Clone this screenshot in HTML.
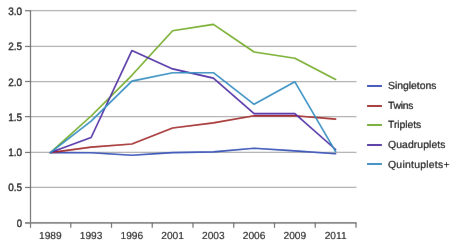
<!DOCTYPE html><html><head><meta charset="utf-8"><style>html,body{margin:0;padding:0;background:#fff;}svg{display:block;will-change:transform;}text{text-rendering:geometricPrecision;}text{font-family:"Liberation Sans",sans-serif;fill:#000;stroke:#000;stroke-width:0.1;}</style></head><body>
<div id="w">
<svg width="456" height="246" viewBox="0 0 456 246">
<defs><filter id="b" filterUnits="userSpaceOnUse" x="0" y="0" width="456" height="246"><feConvolveMatrix order="3" kernelMatrix="0.0016 0.0371 0.0016 0.0371 0.8450 0.0371 0.0016 0.0371 0.0016" edgeMode="duplicate" preserveAlpha="true"/></filter></defs>
<g filter="url(#b)">
<rect width="456" height="246" fill="#fff"/>
<line x1="30.50" y1="187.45" x2="356.50" y2="187.45" stroke="#b0b0b0" stroke-width="1.25"/>
<line x1="30.50" y1="152.45" x2="356.50" y2="152.45" stroke="#b0b0b0" stroke-width="1.25"/>
<line x1="30.50" y1="116.60" x2="356.50" y2="116.60" stroke="#b0b0b0" stroke-width="1.25"/>
<line x1="30.50" y1="81.50" x2="356.50" y2="81.50" stroke="#b0b0b0" stroke-width="1.25"/>
<line x1="30.50" y1="46.45" x2="356.50" y2="46.45" stroke="#b0b0b0" stroke-width="1.25"/>
<line x1="30.50" y1="10.70" x2="356.50" y2="10.70" stroke="#b0b0b0" stroke-width="1.25"/>
<line x1="25" y1="222.85" x2="30.50" y2="222.85" stroke="#6a6a6a" stroke-width="1.2"/>
<line x1="25" y1="187.45" x2="30.50" y2="187.45" stroke="#6a6a6a" stroke-width="1.2"/>
<line x1="25" y1="152.45" x2="30.50" y2="152.45" stroke="#6a6a6a" stroke-width="1.2"/>
<line x1="25" y1="116.60" x2="30.50" y2="116.60" stroke="#6a6a6a" stroke-width="1.2"/>
<line x1="25" y1="81.50" x2="30.50" y2="81.50" stroke="#6a6a6a" stroke-width="1.2"/>
<line x1="25" y1="46.45" x2="30.50" y2="46.45" stroke="#6a6a6a" stroke-width="1.2"/>
<line x1="25" y1="10.70" x2="30.50" y2="10.70" stroke="#6a6a6a" stroke-width="1.2"/>
<line x1="30.50" y1="10.20" x2="30.50" y2="227.85" stroke="#6a6a6a" stroke-width="1.2"/>
<line x1="25" y1="222.85" x2="356.50" y2="222.85" stroke="#858585" stroke-width="1.7"/>
<line x1="70.75" y1="222.85" x2="70.75" y2="227.85" stroke="#6a6a6a" stroke-width="1.2"/>
<line x1="111.50" y1="222.85" x2="111.50" y2="227.85" stroke="#6a6a6a" stroke-width="1.2"/>
<line x1="152.25" y1="222.85" x2="152.25" y2="227.85" stroke="#6a6a6a" stroke-width="1.2"/>
<line x1="193.00" y1="222.85" x2="193.00" y2="227.85" stroke="#6a6a6a" stroke-width="1.2"/>
<line x1="233.75" y1="222.85" x2="233.75" y2="227.85" stroke="#6a6a6a" stroke-width="1.2"/>
<line x1="274.50" y1="222.85" x2="274.50" y2="227.85" stroke="#6a6a6a" stroke-width="1.2"/>
<line x1="315.25" y1="222.85" x2="315.25" y2="227.85" stroke="#6a6a6a" stroke-width="1.2"/>
<line x1="356.00" y1="222.85" x2="356.00" y2="227.85" stroke="#6a6a6a" stroke-width="1.2"/>
<text x="22.00" y="226.85" text-anchor="end" font-size="10.8" textLength="5.30" lengthAdjust="spacingAndGlyphs" style="stroke-width:0.3">0</text>
<text x="22.00" y="191.45" text-anchor="end" font-size="10.8" textLength="13.80" lengthAdjust="spacingAndGlyphs" style="stroke-width:0.3">0.5</text>
<text x="22.00" y="156.45" text-anchor="end" font-size="10.8" textLength="13.80" lengthAdjust="spacingAndGlyphs" style="stroke-width:0.3">1.0</text>
<text x="22.00" y="120.60" text-anchor="end" font-size="10.8" textLength="13.80" lengthAdjust="spacingAndGlyphs" style="stroke-width:0.3">1.5</text>
<text x="22.00" y="85.50" text-anchor="end" font-size="10.8" textLength="13.80" lengthAdjust="spacingAndGlyphs" style="stroke-width:0.3">2.0</text>
<text x="22.00" y="50.45" text-anchor="end" font-size="10.8" textLength="13.80" lengthAdjust="spacingAndGlyphs" style="stroke-width:0.3">2.5</text>
<text x="22.00" y="14.70" text-anchor="end" font-size="10.8" textLength="13.80" lengthAdjust="spacingAndGlyphs" style="stroke-width:0.3">3.0</text>
<text x="50.38" y="238.9" text-anchor="middle" font-size="10.2">1989</text>
<text x="91.12" y="238.9" text-anchor="middle" font-size="10.2">1993</text>
<text x="131.88" y="238.9" text-anchor="middle" font-size="10.2">1996</text>
<text x="172.62" y="238.9" text-anchor="middle" font-size="10.2">2001</text>
<text x="213.38" y="238.9" text-anchor="middle" font-size="10.2">2003</text>
<text x="254.12" y="238.9" text-anchor="middle" font-size="10.2">2006</text>
<text x="294.88" y="238.9" text-anchor="middle" font-size="10.2">2009</text>
<text x="335.62" y="238.9" text-anchor="middle" font-size="10.2">2011</text>
<polyline points="50.38,152.60 91.12,152.70 131.88,155.30 172.62,152.60 213.38,151.90 254.12,148.20 294.88,150.90 335.62,153.70" fill="none" stroke="#2f4fb8" stroke-width="1.65" stroke-linejoin="round" stroke-linecap="round"/>
<polyline points="50.38,152.60 91.12,147.10 131.88,144.00 172.62,128.00 213.38,122.90 254.12,115.80 294.88,115.80 335.62,119.10" fill="none" stroke="#a42222" stroke-width="1.65" stroke-linejoin="round" stroke-linecap="round"/>
<polyline points="50.38,152.60 91.12,116.00 131.88,75.30 172.62,30.80 213.38,24.40 254.12,52.00 294.88,58.30 335.62,79.50" fill="none" stroke="#74ad1c" stroke-width="1.65" stroke-linejoin="round" stroke-linecap="round"/>
<polyline points="50.38,152.60 91.12,137.50 131.88,50.60 172.62,68.90 213.38,78.10 254.12,113.60 294.88,113.60 335.62,149.50" fill="none" stroke="#4e26a6" stroke-width="1.65" stroke-linejoin="round" stroke-linecap="round"/>
<polyline points="50.38,152.60 91.12,121.20 131.88,81.10 172.62,72.70 213.38,72.70 254.12,104.30 294.88,81.80 335.62,151.60" fill="none" stroke="#2e8fc2" stroke-width="1.65" stroke-linejoin="round" stroke-linecap="round"/>
<line x1="367" y1="86.00" x2="382" y2="86.00" stroke="#2f4fb8" stroke-width="2"/>
<text x="388" y="89.00" font-size="10.4" textLength="48.39" lengthAdjust="spacing" style="stroke-width:0.2">Singletons</text>
<line x1="367" y1="106.00" x2="382" y2="106.00" stroke="#a42222" stroke-width="2"/>
<text x="388" y="108.65" font-size="10.4" textLength="25.44" lengthAdjust="spacing" style="stroke-width:0.2">Twins</text>
<line x1="367" y1="125.00" x2="382" y2="125.00" stroke="#74ad1c" stroke-width="2"/>
<text x="388" y="128.30" font-size="10.4" textLength="33.20" lengthAdjust="spacing" style="stroke-width:0.2">Triplets</text>
<line x1="367" y1="145.00" x2="382" y2="145.00" stroke="#4e26a6" stroke-width="2"/>
<text x="388" y="147.95" font-size="10.4" textLength="57.47" lengthAdjust="spacing" style="stroke-width:0.2">Quadruplets</text>
<line x1="367" y1="164.00" x2="382" y2="164.00" stroke="#2e8fc2" stroke-width="2"/>
<text x="388" y="167.60" font-size="10.4" textLength="61.48" lengthAdjust="spacing" style="stroke-width:0.2">Quintuplets+</text>
</g></svg></div></body></html>
